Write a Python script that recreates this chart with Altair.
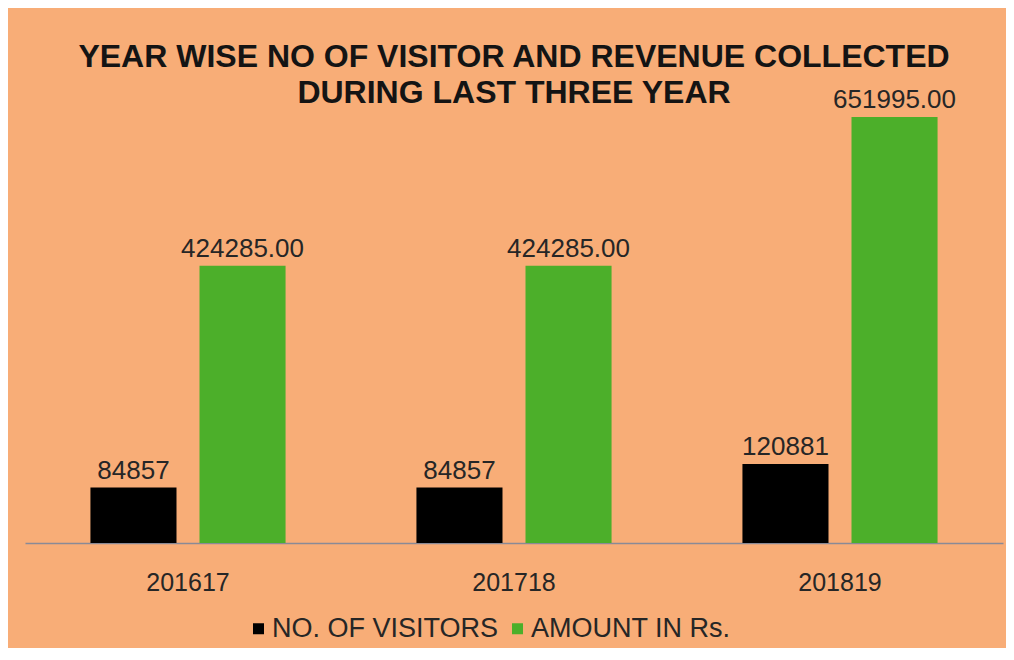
import altair as alt
import pandas as pd

years = ["201617", "201718", "201819"]
visitors = [84857, 84857, 120881]
amount = [424285.00, 424285.00, 651995.00]
series_names = ["NO. OF VISITORS", "AMOUNT IN Rs."]
series_colors = ["#000000", "#4CAF2A"]
title_lines = ["YEAR WISE NO OF VISITOR AND REVENUE COLLECTED", "DURING LAST THREE YEAR"]

rows = []
for yr, v, a in zip(years, visitors, amount):
    rows.append({"year": yr, "series": series_names[0], "value": v, "label": f"{v:d}"})
    rows.append({"year": yr, "series": series_names[1], "value": a, "label": f"{a:.2f}"})
df = pd.DataFrame(rows)

FONT = "Liberation Sans"
BG = "#F8AD77"
TXT = "#262626"

x = alt.X(
    "year:N", sort=years, title=None,
    scale=alt.Scale(paddingInner=0, paddingOuter=0),
    axis=alt.Axis(labelAngle=0, labelFontSize=25, labelColor=TXT, labelFont=FONT,
                  ticks=False, labelPadding=27, domainColor="#8a8a96", domainWidth=1.5,
                  grid=False),
)
xo = alt.XOffset("series:N", sort=series_names,
                 scale=alt.Scale(paddingInner=0.211, paddingOuter=0.6))
y = alt.Y("value:Q", scale=alt.Scale(domain=[0, 653500], nice=False, zero=True), axis=None)

bars = alt.Chart(df).mark_bar().encode(
    x=x, xOffset=xo, y=y,
    color=alt.Color(
        "series:N", sort=series_names,
        scale=alt.Scale(domain=series_names, range=series_colors),
        legend=alt.Legend(
            title=None, orient="none", legendX=220, legendY=499, direction="horizontal",
            symbolType="square", symbolSize=121, symbolStrokeWidth=0,
            labelFontSize=27, labelFont=FONT, labelColor=TXT, labelOffset=0,
            columnPadding=5, labelLimit=0,
        ),
    ),
)
labels = alt.Chart(df).mark_text(
    baseline="alphabetic", dy=-9, fontSize=26, font=FONT, color=TXT
).encode(x=x, xOffset=xo, y=y, text="label:N")

chart = (
    alt.layer(bars, labels)
    .properties(
        width=978, height=427, background=BG,
        padding={"left": 17, "top": 32, "right": 3, "bottom": 6},
        title=alt.Title(title_lines, fontSize=32, font=FONT, fontWeight="bold",
                        color="#141414", lineHeight=36, frame="group", anchor="middle",
                        offset=-23),
    )
    .configure_view(stroke=None)
)

chart.save("out.html", embed_options={"renderer": "svg", "actions": False})
